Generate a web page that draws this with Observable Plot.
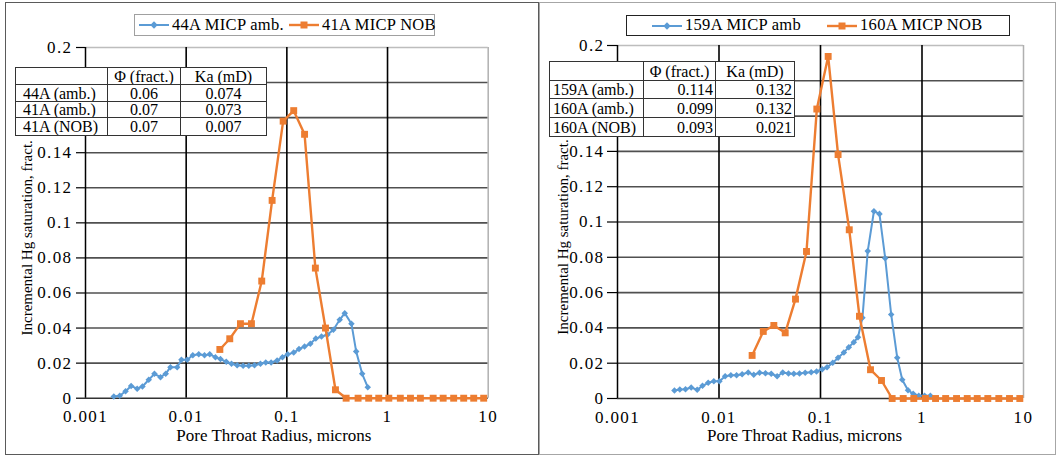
<!DOCTYPE html>
<html><head><meta charset="utf-8">
<script src="https://cdn.jsdelivr.net/npm/d3@7"></script>
<script src="https://cdn.jsdelivr.net/npm/@observablehq/plot@0.6"></script>
<style>
body{margin:0;background:#fff;font-family:"Liberation Serif","Times New Roman",Tinos,"DejaVu Serif",serif;color:#000}
#page{position:relative;width:1057px;height:456px;overflow:hidden;background:#fff}
.panel{position:absolute;box-sizing:border-box;background:#fff}
.plotwrap{position:absolute;top:0}
.plotwrap g[aria-label$="tick label"] text{letter-spacing:1.4px}
.legend{position:absolute;box-sizing:border-box;background:#fff;display:flex;align-items:center;font-size:16.5px;white-space:nowrap;line-height:1;letter-spacing:0.3px}
.legend svg{display:block;flex:none}
table.stats{position:absolute;border-collapse:collapse;background:#fff;font-size:16px;table-layout:fixed;line-height:15px;font-family:inherit}
table.stats td{border:1px solid #333;padding:0;white-space:nowrap;overflow:hidden}
</style></head>
<body><div id="page"></div>
<script>
// ---------- data ----------
const xTickValues = [0.001, 0.01, 0.1, 1, 10];
const xTickLabels = ["0.001", "0.01", "0.1", "1", "10"];
const yTickValues = [0, 0.02, 0.04, 0.06, 0.08, 0.1, 0.12, 0.14, 0.16, 0.18, 0.2];
const yTickLabels = ["0", "0.02", "0.04", "0.06", "0.08", "0.1", "0.12", "0.14", "0.16", "0.18", "0.2"];
// ticks 0.16 and 0.18 sit underneath the inset tables in the original
const yTicksHidden = [0.16, 0.18];

const xTitle = "Pore Throat Radius, microns";
const yTitle = "Incremental Hg saturation, fract.";

// left chart
const leftSeriesNames = ["44A MICP amb.", "41A MICP NOB"];
const amb44X = [0.00191,0.00219,0.0025,0.00284,0.00326,0.00368,0.00425,0.00484,0.00556,0.00627,0.00698,0.00814,0.00898,0.01023,0.01164,0.01334,0.0152,0.01715,0.01954,0.0219,0.025,0.0282,0.0321,0.0368,0.0419,0.0477,0.0547,0.0617,0.0698,0.0801,0.0904,0.102,0.117,0.132,0.15,0.171,0.194,0.221,0.253,0.29,0.335,0.376,0.438,0.488,0.56,0.636];
const amb44Y = [0.001,0.0014,0.004,0.007,0.0054,0.0067,0.0105,0.0139,0.012,0.014,0.0177,0.0177,0.0219,0.0219,0.0245,0.025,0.0245,0.025,0.0234,0.0223,0.0208,0.0196,0.0188,0.0185,0.0185,0.0188,0.0196,0.0204,0.0204,0.0215,0.0234,0.025,0.026,0.028,0.0295,0.031,0.034,0.0352,0.0362,0.039,0.0447,0.0485,0.0425,0.0267,0.0139,0.0063];
const nob41X = [0.0216,0.0271,0.0346,0.0445,0.0563,0.0714,0.0919,0.117,0.15,0.192,0.242,0.304,0.388,0.51,0.65,0.818,1.03,1.34,1.69,2.12,2.84,3.57,4.54,5.71,7.18,9.02];
const nob41Y = [0.0278,0.0339,0.0425,0.0425,0.0668,0.1128,0.158,0.164,0.1505,0.0742,0.04,0.0048,0,0,0,0,0,0,0,0,0,0,0,0,0,0];
const leftTableHeader = ["", "Φ (fract.)", "Ka (mD)"];
const leftTableRows = [["44A (amb.)", "0.06", "0.074"], ["41A (amb.)", "0.07", "0.073"], ["41A (NOB)", "0.07", "0.007"]];

// right chart
const rightSeriesNames = ["159A MICP amb", "160A MICP NOB"];
const amb159X = [0.00364,0.00411,0.00468,0.00532,0.0061,0.00688,0.00783,0.00889,0.0101,0.0115,0.0131,0.0149,0.0169,0.0194,0.022,0.0251,0.0287,0.0327,0.0374,0.0425,0.0484,0.0546,0.0621,0.0707,0.081,0.0914,0.104,0.116,0.132,0.149,0.17,0.19,0.213,0.234,0.259,0.292,0.336,0.381,0.434,0.497,0.57,0.639,0.728,0.819,0.929,1.06,1.21];
const amb159Y = [0.0045,0.0051,0.0053,0.0062,0.0049,0.0072,0.0089,0.0098,0.0098,0.0126,0.0132,0.0132,0.0138,0.0147,0.0134,0.0146,0.0143,0.014,0.0126,0.0147,0.0142,0.014,0.0142,0.0146,0.0149,0.0153,0.0166,0.0177,0.0202,0.0231,0.0261,0.0291,0.0319,0.0347,0.0457,0.0835,0.1061,0.1046,0.0795,0.0476,0.0231,0.0106,0.0047,0.0027,0.0016,0.0015,0.0016];
const nob160X = [0.0212,0.0273,0.0347,0.0449,0.0567,0.0728,0.092,0.119,0.149,0.192,0.242,0.311,0.399,0.508,0.653,0.83,1.08,1.36,1.71,2.19,2.79,3.5,4.45,5.71,7.28,9.2];
const nob160Y = [0.0244,0.038,0.0414,0.0372,0.0563,0.0833,0.164,0.1938,0.1382,0.0956,0.0466,0.0163,0.0102,0,0,0,0,0,0,0,0,0,0,0,0,0];
const rightTableHeader = ["", "Φ (fract.)", "Ka (mD)"];
const rightTableRows = [["159A (amb.)", "0.114", "0.132"], ["160A (amb.)", "0.099", "0.132"], ["160A (NOB)", "0.093", "0.021"]];

// ---------- styling ----------
const FONT = "'Liberation Serif', 'Times New Roman', Tinos, 'DejaVu Serif', serif";
const BLUE = "#5B9BD5";
const ORANGE = "#ED7D31";
const diamond = {draw(ctx, size) { const r = Math.sqrt(size / 2); ctx.moveTo(0, -r); ctx.lineTo(r, 0); ctx.lineTo(0, r); ctx.lineTo(-r, 0); ctx.closePath(); }};

const page = document.getElementById("page");

function el(tag, css, parent) { const e = document.createElement(tag); if (css) e.style.cssText = css; (parent || page).appendChild(e); return e; }

function chart(o) {
  const amb = o.ambX.map((x, i) => ({x, y: o.ambY[i]}));
  const nob = o.nobX.map((x, i) => ({x, y: o.nobY[i]}));
  const hGrid = yTickValues.filter(v => v > 0 && v < 0.2);
  const yShown = yTickValues.filter(v => !yTicksHidden.includes(v));
  return Plot.plot({
    width: o.width, height: 456,
    marginLeft: o.ml, marginRight: o.mr, marginTop: o.mt, marginBottom: o.mb,
    style: {fontFamily: FONT, fontSize: "17px", background: "transparent", color: "#000", overflow: "visible"},
    x: {type: "log", domain: [0.001, 10]},
    y: {domain: [0, 0.2]},
    marks: [
      Plot.ruleY(hGrid, {stroke: "#505050", strokeWidth: 1.6}),
      Plot.ruleY([0.2], {stroke: "#bdbdbd", strokeWidth: 1.5}),
      Plot.ruleX([0.01, 0.1, 1], {stroke: "#000", strokeWidth: 1.6}),
      Plot.ruleX([10], {stroke: "#b0b0b0", strokeWidth: 1.5}),
      Plot.ruleY([0], {stroke: "#333", strokeWidth: 1.6}),
      Plot.ruleX([0.001], {stroke: "#000", strokeWidth: 1.5}),
      Plot.axisY({ticks: yShown, tickFormat: d => yTickLabels[yTickValues.indexOf(d)], tickSize: o.tickSize, tickPadding: o.tickPad, label: null, strokeWidth: 1.2, fontFamily: FONT}),
      Plot.axisX({ticks: xTickValues, tickFormat: d => xTickLabels[xTickValues.indexOf(d)], tickSize: 0, tickPadding: 12, label: null, fontFamily: FONT}),
      Plot.line(amb, {x: "x", y: "y", stroke: BLUE, strokeWidth: 2}),
      Plot.dot(amb, {x: "x", y: "y", symbol: diamond, r: 2.6, fill: BLUE, stroke: "none"}),
      Plot.line(nob, {x: "x", y: "y", stroke: ORANGE, strokeWidth: 2.4}),
      Plot.dot(nob, {x: "x", y: "y", symbol: "square", r: 3.9, fill: ORANGE, stroke: "none"}),
      Plot.text([xTitle], {frameAnchor: "bottom", textAnchor: "middle", lineAnchor: "middle", dy: 37, dx: o.titleDx, fontSize: 17, fill: "#000", fontFamily: FONT}),
      Plot.text([yTitle], {frameAnchor: "left", textAnchor: "middle", lineAnchor: "middle", rotate: -90, dx: o.yTitleDx, dy: 15, fontSize: 15, fill: "#000", fontFamily: FONT})
    ]
  });
}

function swatch(color, kind) {
  const ns = "http://www.w3.org/2000/svg";
  const s = document.createElementNS(ns, "svg");
  s.setAttribute("width", 30); s.setAttribute("height", 12);
  const l = document.createElementNS(ns, "line");
  l.setAttribute("x1", 0); l.setAttribute("x2", 30); l.setAttribute("y1", 6); l.setAttribute("y2", 6);
  l.setAttribute("stroke", color); l.setAttribute("stroke-width", kind === "square" ? 2.4 : 2);
  s.appendChild(l);
  const m = document.createElementNS(ns, "path");
  m.setAttribute("d", kind === "square" ? "M11.5,2.5h7v7h-7z" : "M15,2.3L18.7,6L15,9.7L11.3,6z");
  m.setAttribute("fill", color);
  s.appendChild(m);
  return s;
}

function legend(names, css, gaps) {
  const d = el("div", css);
  d.className = "legend";
  names.forEach((n, i) => {
    const sw = swatch(i === 0 ? BLUE : ORANGE, i === 0 ? "diamond" : "square");
    sw.style.marginLeft = gaps[i] + "px";
    d.appendChild(sw);
    const t = el("span", "margin-left:3px", d);
    t.textContent = n;
  });
  return d;
}

function table(header, rows, css, colW, rowH, firstPad, valueAlign, valuePad) {
  const t = el("table", css);
  t.className = "stats";
  const cg = document.createElement("colgroup");
  colW.forEach(w => { const c = document.createElement("col"); c.style.width = w + "px"; cg.appendChild(c); });
  t.appendChild(cg);
  const tb = document.createElement("tbody");
  t.appendChild(tb);
  [header, ...rows].forEach((r, ri) => {
    const tr = document.createElement("tr");
    r.forEach((v, ci) => {
      const td = document.createElement("td");
      td.textContent = v;
      td.style.height = rowH[ri] + "px";
      if (ci === 0) { td.style.textAlign = "left"; td.style.paddingLeft = firstPad + "px"; }
      else if (ri === 0) td.style.textAlign = "center";
      else { td.style.textAlign = valueAlign; td.style.paddingRight = valuePad + "px"; }
      tr.appendChild(td);
    });
    tb.appendChild(tr);
  });
  return t;
}

// panels
el("div", "left:5px;top:2px;width:534px;height:453px;border:1.5px solid #5a5a5a").className = "panel";
el("div", "left:539px;top:2px;width:517px;height:453px;border:1.5px solid #a6a6a6").className = "panel";

// charts
const w1 = el("div", "left:0px;width:540px"); w1.className = "plotwrap";
w1.appendChild(chart({ambX: amb44X, ambY: amb44Y, nobX: nob41X, nobY: nob41Y, width: 540, ml: 85, mr: 52.3, mt: 47, mb: 58.3, tickSize: 9, tickPad: 4, titleDx: -13, yTitleDx: -58}));
const w2 = el("div", "left:540px;width:517px"); w2.className = "plotwrap";
w2.appendChild(chart({ambX: amb159X, ambY: amb159Y, nobX: nob160X, nobY: nob160Y, width: 517, ml: 77, mr: 34, mt: 45, mb: 58, tickSize: 10, tickPad: 3, titleDx: -16, yTitleDx: -54}));

// tables
table(leftTableHeader, leftTableRows, "left:15px;top:67px;width:251px", [92, 73, 86], [16, 16, 15, 17], 7, "center", 0);
table(rightTableHeader, rightTableRows, "left:549px;top:61px;width:245px", [94, 72, 79], [18, 17, 18, 18], 3, "right", 2);

// legends
legend(leftSeriesNames, "left:134px;top:14px;width:301px;height:22px;border:1.5px solid #a0a0a0", [4, 5]);
legend(rightSeriesNames, "left:626px;top:15px;width:384px;height:21px;border:1.5px solid #222", [25, 26]);
</script>
</body></html>
